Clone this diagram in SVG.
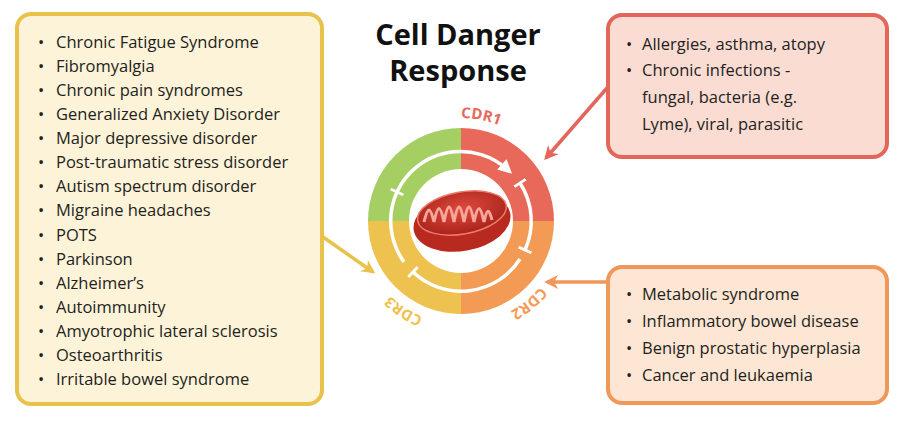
<svg xmlns="http://www.w3.org/2000/svg" width="901" height="425" viewBox="0 0 901 425">
<defs>
<style>
.t{font-family:"Open Sans","Liberation Sans",sans-serif;font-size:16.5px;fill:#231f20}
.h{font-family:"Open Sans","Liberation Sans",sans-serif;font-size:29px;font-weight:bold;fill:#111;text-anchor:middle}
.cdr{font-family:"Open Sans","Liberation Sans",sans-serif;font-size:15px;font-weight:bold}
.w{fill:none;stroke:#fff;stroke-width:3.5}
</style>
<marker id="ar" viewBox="0 0 10 10" refX="8" refY="5" markerWidth="4" markerHeight="4" orient="auto"><path d="M0,0L10,5L0,10L3,5Z" fill="context-stroke"/></marker>
<marker id="wa" viewBox="0 0 10 10" refX="6" refY="5" markerWidth="4" markerHeight="4" orient="auto"><path d="M0,0L10,5L0,10Z" fill="#fff"/></marker>
<marker id="tb" viewBox="0 0 2 10" refX="1" refY="5" markerWidth="1" markerHeight="4" orient="auto"><rect width="2" height="10" fill="#fff"/></marker>
<path id="lab" d="M461,324a103,103 0 1,1 0.1,0"/>
<radialGradient id="mg" cx="0.5" cy="0.4" r="0.6"><stop offset="0" stop-color="#e04a3c"/><stop offset="1" stop-color="#a8231c"/></radialGradient>
</defs>
<g id="box-left"><rect x="17" y="14" width="305" height="390" rx="14" fill="#fdf3d9" stroke="#e9c24b" stroke-width="4"/>
<g class="t">
<text x="38" y="48">•</text><text x="56" y="48">Chronic Fatigue Syndrome</text>
<text x="38" y="72">•</text><text x="56" y="72">Fibromyalgia</text>
<text x="38" y="96">•</text><text x="56" y="96">Chronic pain syndromes</text>
<text x="38" y="120">•</text><text x="56" y="120">Generalized Anxiety Disorder</text>
<text x="38" y="144">•</text><text x="56" y="144">Major depressive disorder</text>
<text x="38" y="168">•</text><text x="56" y="168">Post-traumatic stress disorder</text>
<text x="38" y="192">•</text><text x="56" y="192">Autism spectrum disorder</text>
<text x="38" y="216">•</text><text x="56" y="216">Migraine headaches</text>
<text x="38" y="241">•</text><text x="56" y="241">POTS</text>
<text x="38" y="265">•</text><text x="56" y="265">Parkinson</text>
<text x="38" y="289">•</text><text x="56" y="289">Alzheimer’s</text>
<text x="38" y="313">•</text><text x="56" y="313">Autoimmunity</text>
<text x="38" y="337">•</text><text x="56" y="337">Amyotrophic lateral sclerosis</text>
<text x="38" y="361">•</text><text x="56" y="361">Osteoarthritis</text>
<text x="38" y="385">•</text><text x="56" y="385">Irritable bowel syndrome</text>
</g></g>
<g id="box-tr"><rect x="608" y="15" width="279" height="142" rx="14" fill="#fadcd3" stroke="#e3665a" stroke-width="4"/>
<g class="t">
<text x="626" y="50">•</text><text x="642" y="50">Allergies, asthma, atopy</text>
<text x="626" y="76">•</text><text x="642" y="76">Chronic infections -</text>
<text x="642" y="103">fungal, bacteria (e.g.</text>
<text x="642" y="130">Lyme), viral, parasitic</text>
</g></g>
<g id="box-br"><rect x="608" y="267" width="279" height="136" rx="14" fill="#fde6d3" stroke="#f0975a" stroke-width="4"/>
<g class="t">
<text x="626" y="300">•</text><text x="642" y="300">Metabolic syndrome</text>
<text x="626" y="327">•</text><text x="642" y="327">Inflammatory bowel disease</text>
<text x="626" y="354">•</text><text x="642" y="354">Benign prostatic hyperplasia</text>
<text x="626" y="381">•</text><text x="642" y="381">Cancer and leukaemia</text>
</g></g>
<g id="title"><text class="h" x="458" y="45">Cell Danger</text><text class="h" x="458" y="81">Response</text></g>
<g id="cycle">
<path d="M461,221V128A93,93 0 0,0 368,221Z" fill="#a6cf63"/>
<path d="M461,221V128A93,93 0 0,1 554,221Z" fill="#e8685a"/>
<path d="M461,221H554A93,93 0 0,1 461,314Z" fill="#f39b55"/>
<path d="M461,221V314A93,93 0 0,1 368,221Z" fill="#eec24f"/>
<circle cx="461" cy="221" r="52" fill="#fff"/>
<path class="w" d="M397,192A70,70 0 0,1 508,170" marker-start="url(#tb)" marker-end="url(#wa)"/>
<path class="w" d="M520,183A70,70 0 0,1 525,250" marker-start="url(#tb)" marker-end="url(#tb)"/>
<path class="w" d="M520,259A70,70 0 0,1 413,272" marker-end="url(#tb)"/>
<path class="w" d="M404,262A70,70 0 0,1 397,192"/>
<text class="cdr" fill="#e8685a"><textPath href="#lab" startOffset="50%">CDR1</textPath></text>
<text class="cdr" fill="#f39b55"><textPath href="#lab" startOffset="86%">CDR2</textPath></text>
<text class="cdr" fill="#eec24f"><textPath href="#lab" startOffset="6%">CDR3</textPath></text>
</g>
<g id="mito">
<ellipse cx="462" cy="222" rx="49" ry="29" transform="rotate(-10 462 222)" fill="#b82a20"/>
<ellipse cx="462" cy="213" rx="45" ry="21" transform="rotate(-10 462 213)" fill="url(#mg)" stroke="#f07a6a" stroke-width="1.5"/>
<path d="M424,222c4,-16 6,-16 10,0c4,-18 6,-18 10,0c4,-20 6,-20 10,0c4,-20 6,-20 10,0c4,-20 6,-20 10,0c4,-18 6,-18 10,0c3,-14 5,-14 8,-2" fill="none" stroke="#f7a69a" stroke-width="3"/>
</g>
<g id="connectors" stroke-width="3.5" fill="none">
<line x1="607" y1="88" x2="546" y2="158" stroke="#e3665a" marker-end="url(#ar)"/>
<line x1="608" y1="282" x2="547" y2="282" stroke="#f0975a" marker-end="url(#ar)"/>
<line x1="323" y1="237" x2="373" y2="272" stroke="#e9c24b" marker-end="url(#ar)"/>
</g>
</svg>
